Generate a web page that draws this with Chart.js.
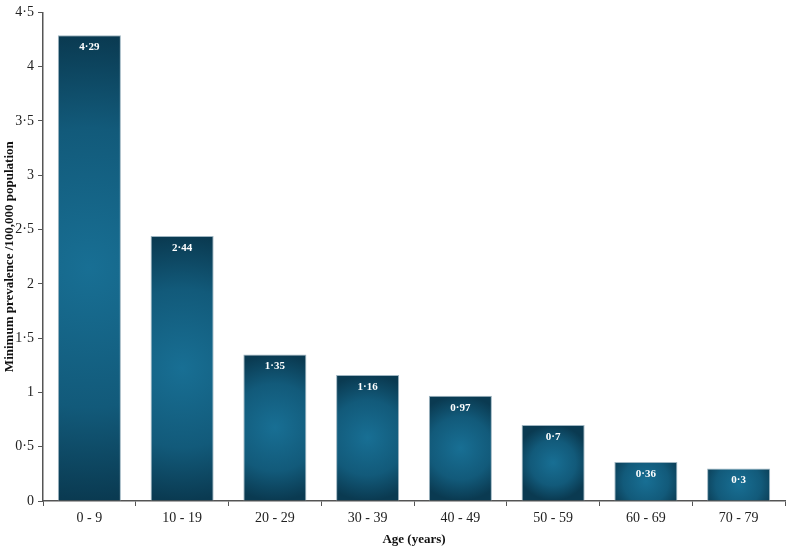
<!DOCTYPE html>
<html>
<head>
<meta charset="utf-8">
<script src="https://cdn.jsdelivr.net/npm/chart.js@4.4.0/dist/chart.umd.min.js"></script>
<style>
  html, body { margin: 0; padding: 0; background: #fff; }
  #wrap { width: 789px; height: 547px; }
</style>
</head>
<body>
<div id="wrap"><canvas id="chart" width="789" height="547"></canvas></div>
<script>
// age groups and minimum prevalence per 100,000
var AgeGroups = ['0 - 9', '10 - 19', '20 - 29', '30 - 39', '40 - 49', '50 - 59', '60 - 69', '70 - 79']
var Prevalence = [4.29, 2.44, 1.35, 1.16, 0.97, 0.7, 0.36, 0.3]
var BarLabels = ['4·29', '2·44', '1·35', '1·16', '0·97', '0·7', '0·36', '0·3']

function dotNum(v) {
  return String(v).replace('.', '·')
}

// radial shading for each bar, set right before drawing
var shadePlugin = {
  id: 'shade',
  beforeDatasetsDraw: function(chart) {
    var ctx = chart.ctx
    chart.getDatasetMeta(0).data.forEach(function(bar) {
      var top = bar.y, bottom = bar.base
      var cx = bar.x, cy = (top + bottom) / 2
      var h = bottom - top, w = bar.width
      var r = Math.max(h / 2, w * 0.6)
      var g = ctx.createRadialGradient(cx, cy, 0, cx, cy, r)
      g.addColorStop(0, '#186f94')
      g.addColorStop(0.6, '#125a7a')
      g.addColorStop(1, '#0a3a51')
      bar.options.backgroundColor = g
    })
  }
}

var labelPlugin = {
  id: 'barLabels',
  afterDatasetsDraw: function(chart) {
    var ctx = chart.ctx
    ctx.save()
    ctx.fillStyle = '#ffffff'
    ctx.font = 'bold 11px "Liberation Serif", "Times New Roman", serif'
    ctx.textAlign = 'center'
    ctx.textBaseline = 'middle'
    chart.getDatasetMeta(0).data.forEach(function(bar, i) {
      ctx.fillText(BarLabels[i], bar.x, bar.y + 12)
    })
    ctx.restore()
  }
}

var serif = '"Liberation Serif", "Times New Roman", serif'

new Chart(document.getElementById('chart').getContext('2d'), {
  type: 'bar',
  data: {
    labels: AgeGroups,
    datasets: [{
      data: Prevalence,
      // a function keeps each bar's options separate
      backgroundColor: function() { return '#125a7a' },
      borderColor: '#9fb6c2',
      borderWidth: 1,
      categoryPercentage: 1,
      barPercentage: 0.68
    }]
  },
  plugins: [shadePlugin, labelPlugin],
  options: {
    responsive: false,
    animation: false,
    layout: { padding: { top: 3, right: 4, left: 2, bottom: 0 } },
    plugins: {
      legend: { display: false },
      tooltip: { enabled: false }
    },
    scales: {
      y: {
        min: 0,
        max: 4.5,
        afterFit: function(s) { s.width = 41 },
        ticks: {
          stepSize: 0.5,
          color: '#222',
          padding: 4,
          font: { family: serif, size: 14 },
          callback: function(v) { return dotNum(v) }
        },
        grid: { drawOnChartArea: false, drawTicks: true, tickLength: 5, color: '#555' },
        border: { color: '#555', width: 1.5 },
        title: {
          display: true,
          text: 'Minimum prevalence /100,000 population',
          color: '#111',
          padding: { top: 0, bottom: 2 },
          font: { family: serif, size: 13, weight: 'bold' }
        }
      },
      x: {
        afterFit: function(s) { s.height = 46 },
        ticks: {
          color: '#222',
          padding: 4,
          font: { family: serif, size: 14 }
        },
        grid: { drawOnChartArea: false, drawTicks: true, tickLength: 5, offset: true, color: '#555' },
        border: { color: '#555', width: 1.5 },
        title: {
          display: true,
          text: 'Age (years)',
          color: '#111',
          padding: { top: 4, bottom: 0 },
          font: { family: serif, size: 13, weight: 'bold' }
        }
      }
    }
  }
})
</script>
</body>
</html>
